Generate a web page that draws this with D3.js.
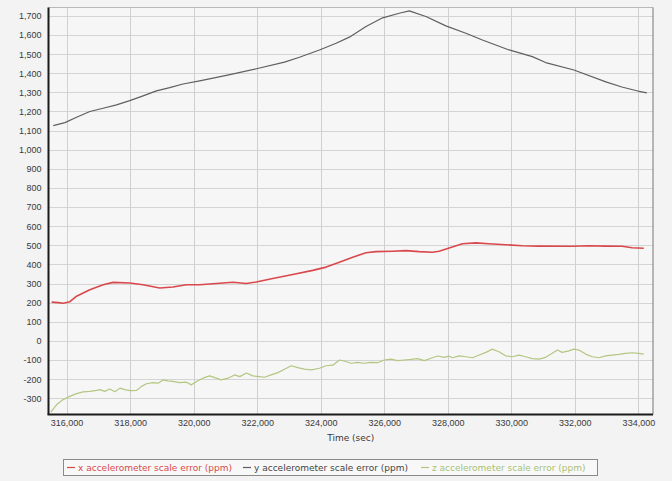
<!DOCTYPE html>
<html lang="en">
<head>
<meta charset="utf-8">
<title>Accelerometer scale error</title>
<script src="https://d3js.org/d3.v7.min.js"></script>
<style>
  body { margin: 0; background: #f3f3f3; }
  svg { display: block; font-family: "DejaVu Sans", Verdana, sans-serif; }
</style>
</head>
<body>
<svg id="chart" width="672" height="481"></svg>
<script>
// series labels
var seriesNames = [
  "x accelerometer scale error (ppm)",
  "y accelerometer scale error (ppm)",
  "z accelerometer scale error (ppm)"
]
var seriesColors = ["#d9484c", "#5f5f5f", "#b4c682"]
var legendText = ["#d9484c", "#444444", "#a9bf74"]

// tick values
var xTicks = [316000, 318000, 320000, 322000, 324000, 326000, 328000, 330000, 332000, 334000]
var yTicks = [-300, -200, -100, 0, 100, 200, 300, 400, 500, 600, 700, 800, 900,
              1000, 1100, 1200, 1300, 1400, 1500, 1600, 1700]

// x accelerometer (red): [time, ppm]
var xAccel = [
  [315529, 203], [315736, 200], [315893, 197], [316104, 205], [316314, 234],
  [316732, 268], [317150, 294], [317464, 306], [317989, 303], [318407, 294],
  [318931, 277], [319349, 282], [319770, 294], [320188, 294], [320713, 300],
  [321235, 307], [321655, 300], [321970, 308], [322491, 326], [323120, 347],
  [323748, 369], [324169, 386], [324587, 412], [325005, 438], [325426, 461],
  [325740, 467], [326262, 469], [326680, 472], [327098, 467], [327516, 464],
  [327727, 469], [328044, 486], [328461, 508], [328882, 513], [329291, 508],
  [329824, 503], [330346, 498], [330871, 496], [331918, 495], [332440, 498],
  [332966, 496], [333489, 495], [333802, 487], [334169, 485]
]

// y accelerometer (gray)
var yAccel = [
  [315579, 1126], [315947, 1142], [316314, 1170], [316732, 1200], [317150, 1217],
  [317571, 1235], [317989, 1257], [318407, 1282], [318828, 1308], [319246, 1325],
  [319664, 1344], [320188, 1360], [321068, 1390], [322011, 1425], [322859, 1458],
  [323330, 1484], [323959, 1522], [324483, 1557], [324901, 1589], [325426, 1645],
  [325948, 1690], [326472, 1714], [326787, 1726], [327311, 1697], [327939, 1648],
  [328568, 1609], [329090, 1574], [329929, 1522], [330661, 1487], [331081, 1456],
  [331970, 1417], [332976, 1355], [333479, 1328], [333982, 1307], [334265, 1297]
]

// z accelerometer (green)
var zAccel = [
  [315500, -372], [315690, -333], [315890, -307], [316100, -290], [316310, -276],
  [316520, -267], [316730, -264], [316940, -259], [317050, -255], [317200, -264],
  [317360, -252], [317520, -266], [317680, -247], [317830, -255], [317990, -260],
  [318200, -259], [318360, -238], [318510, -224], [318720, -218], [318880, -221],
  [319040, -204], [319190, -209], [319350, -212], [319560, -218], [319770, -216],
  [319930, -230], [320090, -212], [320290, -195], [320500, -183], [320710, -195],
  [320870, -204], [321080, -195], [321290, -178], [321450, -187], [321660, -168],
  [321860, -183], [322070, -187], [322230, -190], [322440, -178], [322650, -166],
  [322860, -148], [323070, -130], [323280, -140], [323490, -148], [323700, -152],
  [323960, -143], [324170, -130], [324380, -127], [324590, -100], [324740, -105],
  [324960, -117], [325160, -112], [325370, -117], [325580, -112], [325790, -114],
  [326000, -100], [326210, -95], [326420, -103], [326630, -100], [326840, -97],
  [327050, -93], [327260, -103], [327470, -91], [327680, -79], [327890, -86],
  [328040, -80], [328150, -88], [328360, -78], [328570, -83], [328780, -88],
  [328990, -74], [329200, -60], [329400, -43], [329610, -57], [329820, -78],
  [330030, -83], [330240, -74], [330450, -83], [330660, -93], [330870, -95],
  [331080, -86], [331290, -65], [331450, -48], [331600, -60], [331810, -52],
  [331970, -43], [332130, -48], [332340, -69], [332550, -83], [332760, -88],
  [332970, -78], [333170, -74], [333380, -70], [333590, -65], [333800, -62],
  [334010, -65], [334170, -69]
]

var series = [xAccel, yAccel, zAccel]

// plot box
var plot = {left: 48.5, right: 653, top: 7.5, bottom: 414.5}

var svg = d3.select("#chart")

var x = d3.scaleLinear()
  .domain([315430, 334460])
  .range([plot.left, plot.right])

var y = d3.scaleLinear()
  .domain([-385, 1744])
  .range([plot.bottom, plot.top])

var fmt = d => d3.format(",")(d).replace("\u2212", "-")

// plot background
svg.append("rect")
  .attr("x", plot.left).attr("y", plot.top)
  .attr("width", plot.right - plot.left).attr("height", plot.bottom - plot.top)
  .attr("fill", "#f6f6f6")

// grid
svg.append("g")
  .selectAll("line")
  .data(yTicks)
  .join("line")
    .attr("x1", plot.left).attr("x2", plot.right)
    .attr("y1", d => Math.round(y(d)) + 0.5).attr("y2", d => Math.round(y(d)) + 0.5)
    .attr("stroke", "#d4d4d4")

svg.append("g")
  .selectAll("line")
  .data(xTicks)
  .join("line")
    .attr("x1", d => Math.round(x(d)) + 0.5).attr("x2", d => Math.round(x(d)) + 0.5)
    .attr("y1", plot.top).attr("y2", plot.bottom)
    .attr("stroke", "#d0d0d0")

// frame: light top, darker right
svg.append("line")
  .attr("x1", plot.left).attr("x2", plot.right)
  .attr("y1", plot.top).attr("y2", plot.top)
  .attr("stroke", "#b8b8b8")
svg.append("line")
  .attr("x1", plot.right).attr("x2", plot.right)
  .attr("y1", plot.top).attr("y2", plot.bottom)
  .attr("stroke", "#777")

// lines
var line = d3.line()
  .x(d => x(d[0]))
  .y(d => y(d[1]))

svg.append("g")
  .attr("fill", "none")
  .selectAll("path")
  .data(series)
  .join("path")
    .attr("stroke", (d, i) => seriesColors[i])
    .attr("stroke-width", (d, i) => i == 0 ? 1.6 : 1.2)
    .attr("stroke-linejoin", "round")
    .attr("d", line)

// axes (thick black lines on left and bottom)
var yAxis = svg.append("g")
  .attr("transform", "translate(" + plot.left + ",0)")
  .call(d3.axisLeft(y).tickValues(yTicks).tickFormat(fmt).tickSize(0).tickPadding(7))
yAxis.select(".domain").attr("stroke", "#1a1a1a").attr("stroke-width", 2)
  .attr("d", "M0," + plot.top + "V" + plot.bottom)
yAxis.selectAll("text").attr("fill", "#3a3a3a").attr("font-size", 9)

var xAxis = svg.append("g")
  .attr("transform", "translate(0," + plot.bottom + ")")
  .call(d3.axisBottom(x).tickValues(xTicks).tickFormat(fmt).tickSize(0).tickPadding(5))
xAxis.select(".domain").attr("stroke", "#1a1a1a").attr("stroke-width", 2)
  .attr("d", "M" + (plot.left - 1) + ",0H" + plot.right)
xAxis.selectAll("text").attr("fill", "#3a3a3a").attr("font-size", 9)

svg.append("text")
  .attr("x", (plot.left + plot.right) / 2)
  .attr("y", 441)
  .attr("text-anchor", "middle")
  .attr("font-size", 9)
  .attr("fill", "#3a3a3a")
  .text("Time (sec)")

// legend
var legend = svg.append("g")
legend.append("rect")
  .attr("x", 63.5).attr("y", 459.5)
  .attr("width", 534).attr("height", 16)
  .attr("fill", "#f8f8f8")
  .attr("stroke", "#8a8a8a")

var legendX = [67, 243, 421]
var item = legend.selectAll("g")
  .data(seriesNames)
  .join("g")
    .attr("transform", (d, i) => "translate(" + legendX[i] + ",467.5)")
item.append("line")
  .attr("x1", 0).attr("x2", 8)
  .attr("stroke", (d, i) => seriesColors[i])
  .attr("stroke-width", 1.2)
item.append("text")
  .attr("x", 11)
  .attr("dy", "0.35em")
  .attr("font-size", 9)
  .attr("fill", (d, i) => legendText[i])
  .text(d => d)
</script>
</body>
</html>
